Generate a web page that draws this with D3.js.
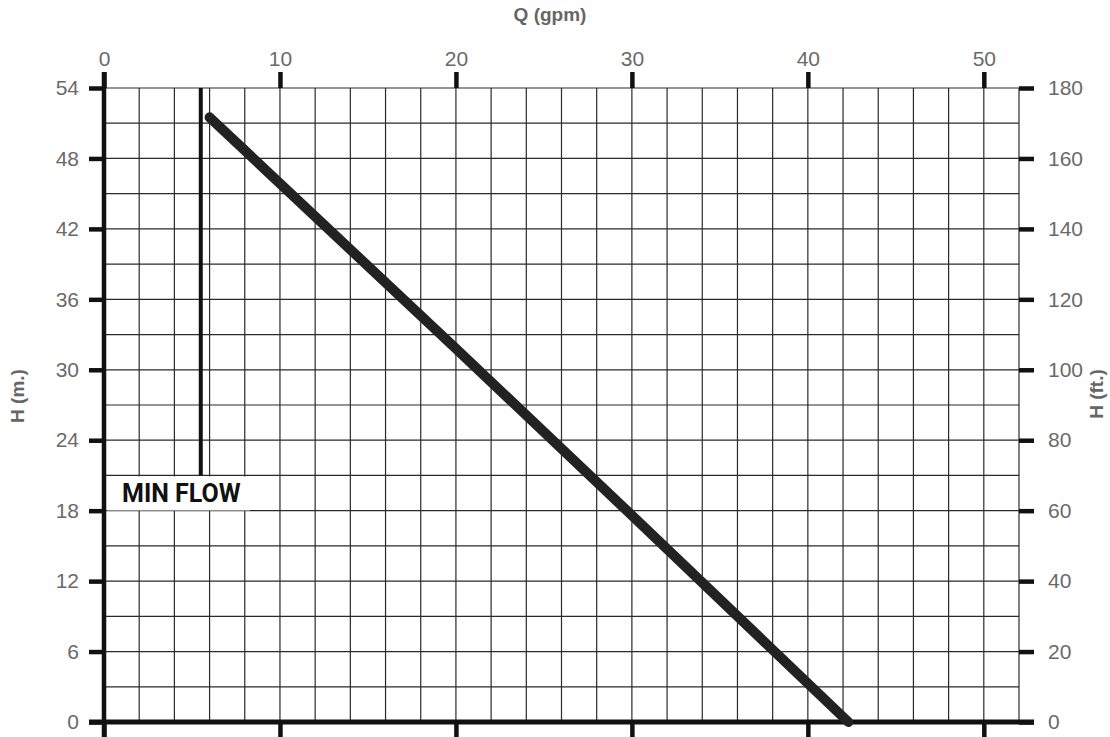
<!DOCTYPE html>
<html><head><meta charset="utf-8">
<script src="https://cdn.jsdelivr.net/npm/d3@7"></script>
<style>
body{margin:0;background:#fff;}
svg{display:block;}
</style></head>
<body>
<svg id="c" width="1110" height="737"></svg>
<script>
// Data
const qTicks = [0, 10, 20, 30, 40, 50];          // gpm
const hmTicks = [0, 6, 12, 18, 24, 30, 36, 42, 48, 54]; // m
const hftTicks = [0, 20, 40, 60, 80, 100, 120, 140, 160, 180]; // ft
const curveQ = [6, 20, 30, 42.3];
const curveH = [51.5, 31.8, 17.6, 0];
const minFlowQ = 5.5;
const minFlowH = [21, 54];
const minFlowLabel = "MIN FLOW";

const svg = d3.select("#c");
const L = 104, R = 1019, T = 88, B = 722;
const x = d3.scaleLinear().domain([0, 52]).range([L, R]);
const y = d3.scaleLinear().domain([0, 54]).range([B, T]);
const yft = d3.scaleLinear().domain([0, 180]).range([B, T]);
const tf = "Liberation Sans, Arial, sans-serif";

// grid
const g = svg.append("g");
g.selectAll("line.v").data(d3.range(0, 53, 2)).join("line")
  .attr("x1", d => x(d)).attr("x2", d => x(d)).attr("y1", T).attr("y2", B)
  .attr("stroke", "#2a2a2a").attr("stroke-width", 1.2);
g.selectAll("line.h").data(d3.range(0, 55, 3)).join("line")
  .attr("x1", L).attr("x2", R).attr("y1", d => y(d)).attr("y2", d => y(d))
  .attr("stroke", "#2a2a2a").attr("stroke-width", 1.2);

// axes
function styleAxis(sel){
  sel.select(".domain").remove();
  sel.selectAll(".tick line").attr("stroke", "#111").attr("stroke-width", 4.5);
  sel.selectAll("text").attr("fill", "#6a6a6a").attr("font-size", 21)
     .attr("font-family", tf);
}
svg.append("g").attr("transform", `translate(0,${T})`)
  .call(d3.axisTop(x).tickValues(qTicks).tickSize(16).tickPadding(6)).call(styleAxis);
svg.append("g").attr("transform", `translate(0,${B})`)
  .call(d3.axisBottom(x).tickValues(qTicks).tickSize(16).tickFormat("")).call(styleAxis);
svg.append("g").attr("transform", `translate(${L},0)`)
  .call(d3.axisLeft(y).tickValues(hmTicks).tickSize(15).tickPadding(10)).call(styleAxis);
svg.append("g").attr("transform", `translate(${R},0)`)
  .call(d3.axisRight(yft).tickValues(hftTicks).tickSize(15).tickPadding(14)).call(styleAxis);

// thick axis lines
svg.append("line").attr("x1", L).attr("x2", L).attr("y1", T - 16).attr("y2", 737)
  .attr("stroke", "#111").attr("stroke-width", 4.5);
svg.append("line").attr("x1", L - 15).attr("x2", R + 15).attr("y1", B).attr("y2", B)
  .attr("stroke", "#111").attr("stroke-width", 5);

// min flow
svg.append("line").attr("x1", x(minFlowQ)).attr("x2", x(minFlowQ))
  .attr("y1", y(minFlowH[0])).attr("y2", y(minFlowH[1]))
  .attr("stroke", "#111").attr("stroke-width", 4);
svg.append("rect").attr("x", L + 3).attr("y", y(minFlowH[0]) + 1)
  .attr("width", 143).attr("height", 34).attr("fill", "#fff");
svg.append("text").attr("x", 122).attr("y", y(minFlowH[0]) + 27)
  .attr("font-family", "Roboto, sans-serif").attr("font-weight", "bold")
  .attr("font-size", 25).attr("fill", "#111").text(minFlowLabel);

// curve
const line = d3.line().x(d => x(d[0])).y(d => y(d[1]));
svg.append("path").datum(curveQ.map((q, i) => [q, curveH[i]]))
  .attr("d", line).attr("fill", "none").attr("stroke", "#222")
  .attr("stroke-width", 10).attr("stroke-linecap", "round").attr("stroke-linejoin", "round");

// titles
svg.append("text").attr("x", 550).attr("y", 21).attr("text-anchor", "middle")
  .attr("font-family", tf).attr("font-weight", "bold").attr("font-size", 19)
  .attr("fill", "#666").text("Q (gpm)");
svg.append("text").attr("transform", "translate(24,396) rotate(-90)").attr("text-anchor", "middle")
  .attr("font-family", tf).attr("font-weight", "bold").attr("font-size", 19)
  .attr("fill", "#666").text("H (m.)");
svg.append("text").attr("transform", "translate(1103,394) rotate(-90)").attr("text-anchor", "middle")
  .attr("font-family", tf).attr("font-weight", "bold").attr("font-size", 19)
  .attr("fill", "#666").text("H (ft.)");
</script>
</body></html>
